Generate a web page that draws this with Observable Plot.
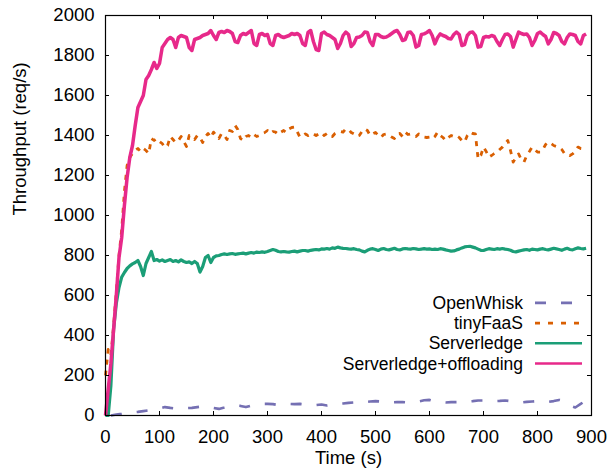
<!DOCTYPE html>
<html>
<head>
<meta charset="utf-8">
<script src="https://cdn.jsdelivr.net/npm/d3@7"></script>
<script src="https://cdn.jsdelivr.net/npm/@observablehq/plot@0.6"></script>
<style>
  body { margin: 0; background: #fff; }
  #chart svg { display: block; }
</style>
</head>
<body>
<div id="chart"></div>
<script>
// Throughput over time for four FaaS platforms (req/s, one sample every few seconds)
const seriesNames = ["OpenWhisk", "tinyFaaS", "Serverledge", "Serverledge+offloading"];
const seriesColors = ["#7570b3", "#d95f02", "#1b9e77", "#e7298a"];
const xTicks = [0, 100, 200, 300, 400, 500, 600, 700, 800, 900];
const yTicks = [0, 200, 400, 600, 800, 1000, 1200, 1400, 1600, 1800, 2000];

// OpenWhisk: samples every 10 s starting at t = 10 s
const openWhiskStart = 10, openWhiskStep = 10;
const openWhisk = [
  0, 5, 8, 12, 15, 18, 22, 26, 30, 35,
  42, 38, 35, 36, 37, 38, 42, 46, 45, 38,
  33, 40, 48, 50, 48, 42, 50, 55, 58, 58,
  57, 52, 55, 58, 57, 58, 55, 53, 52, 55,
  50, 55, 58, 60, 63, 65, 62, 67, 70, 72,
  70, 68, 66, 67, 67, 65, 68, 70, 76, 78,
  70, 66, 65, 67, 67, 68, 70, 72, 75, 75,
  74, 72, 73, 75, 72, 67, 65, 68, 70, 72,
  70, 68, 72, 78, 72, 50, 40, 58, 75
];

// tinyFaaS: samples every 5 s starting at t = 0
const tinyFaaSStart = 0, tinyFaaSStep = 5;
const tinyFaaS = [
  200, 330, 300, 450, 620, 800, 930, 1120, 1250, 1290,
  1310, 1325, 1335, 1320, 1335, 1325, 1310, 1385, 1375, 1385,
  1370, 1360, 1340, 1350, 1395, 1380, 1365, 1375, 1395, 1370,
  1345, 1400, 1395, 1380, 1400, 1390, 1365, 1395, 1410, 1390,
  1417, 1400, 1385, 1410, 1400, 1380, 1425, 1420, 1450, 1430,
  1385, 1375, 1395, 1400, 1390, 1405, 1395, 1400, 1410, 1415,
  1425, 1410, 1420, 1417, 1405, 1417, 1425, 1415, 1433, 1440,
  1442, 1420, 1392, 1400, 1408, 1400, 1410, 1408, 1400, 1408,
  1415, 1400, 1410, 1408, 1395, 1410, 1417, 1420, 1417, 1433,
  1430, 1415, 1408, 1395, 1400, 1420, 1433, 1425, 1400, 1408,
  1415, 1400, 1390, 1405, 1408, 1400, 1392, 1385, 1408, 1410,
  1395, 1417, 1405, 1408, 1400, 1395, 1408, 1400, 1392, 1390,
  1392, 1383, 1395, 1417, 1400, 1390, 1375, 1390, 1400, 1395,
  1400, 1390, 1375, 1367, 1400, 1417, 1410, 1408, 1283, 1300,
  1342, 1320, 1292, 1300, 1310, 1317, 1330, 1342, 1360, 1375,
  1325, 1267, 1290, 1308, 1280, 1267, 1300, 1320, 1342, 1330,
  1317, 1317, 1330, 1355, 1367, 1360, 1350, 1345, 1342, 1330,
  1310, 1308, 1300, 1308, 1320, 1342, 1335, 1333
];

// Serverledge: samples every 5 s starting at t = 0
const serverledgeStart = 0, serverledgeStep = 5;
const serverledge = [
  0, 0, 150, 430, 560, 640, 692, 715, 735, 748,
  758, 765, 775, 745, 700, 760, 790, 820, 775, 780,
  772, 778, 770, 775, 780, 770, 775, 768, 778, 770,
  765, 768, 760, 770, 760, 717, 745, 790, 800, 765,
  790, 798, 800, 805, 808, 805, 808, 810, 806, 808,
  810, 812, 808, 812, 815, 812, 817, 815, 818, 816,
  820, 825, 830, 826, 820, 818, 820, 818, 817, 820,
  822, 818, 822, 825, 825, 822, 826, 828, 830, 828,
  833, 832, 835, 832, 838, 836, 842, 838, 836, 835,
  833, 832, 834, 830, 828, 822, 818, 826, 832, 834,
  830, 825, 832, 835, 830, 828, 832, 836, 830, 828,
  833, 835, 833, 832, 835, 833, 830, 832, 834, 832,
  833, 830, 832, 830, 834, 832, 828, 825, 822, 823,
  828, 832, 838, 843, 845, 846, 842, 838, 832, 826,
  825, 830, 834, 832, 830, 834, 832, 835, 832, 830,
  826, 820, 818, 822, 825, 828, 830, 826, 832, 830,
  828, 832, 834, 830, 828, 832, 836, 833, 830, 826,
  832, 836, 830, 828, 834, 838, 835, 833, 836
];

// Serverledge+offloading: samples every 5 s starting at t = 0
const offloadingStart = 0, offloadingStep = 5;
const offloading = [
  0, 130, 260, 430, 600, 790, 890, 1050, 1190, 1290,
  1350, 1450, 1540, 1570, 1600, 1680, 1700, 1730, 1765, 1735,
  1760, 1840, 1860, 1880, 1890, 1880, 1840, 1890, 1900, 1895,
  1890, 1840, 1825, 1880, 1885, 1890, 1900, 1905, 1910, 1925,
  1900, 1880, 1915, 1920, 1915, 1925, 1920, 1910, 1870, 1865,
  1900, 1910, 1905, 1915, 1925, 1860, 1850, 1905, 1910, 1900,
  1905, 1860, 1850, 1900, 1905, 1895, 1890, 1895, 1900, 1910,
  1905, 1910, 1900, 1860, 1850, 1915, 1925, 1870, 1830, 1825,
  1910, 1917, 1905, 1900, 1890, 1880, 1835, 1860, 1900, 1917,
  1905, 1845, 1860, 1890, 1892, 1900, 1917, 1915, 1870, 1850,
  1905, 1905, 1895, 1890, 1892, 1900, 1910, 1920, 1925, 1905,
  1875, 1880, 1915, 1917, 1900, 1842, 1850, 1905, 1908, 1915,
  1925, 1900, 1858, 1890, 1908, 1900, 1895, 1885, 1883, 1905,
  1917, 1905, 1850, 1855, 1900, 1915, 1917, 1900, 1842, 1845,
  1890, 1895, 1892, 1900, 1895, 1870, 1850, 1880, 1905, 1908,
  1895, 1842, 1880, 1917, 1910, 1905, 1908, 1890, 1850, 1875,
  1910, 1917, 1905, 1895, 1858, 1880, 1915, 1910, 1900, 1870,
  1858, 1890, 1908, 1905, 1900, 1870, 1858, 1900, 1908
];

const toRows = (values, start, stepSec) => values.map((v, i) => ({t: start + i * stepSec, v}));

const width = 610, height = 476;
const margin = {top: 15, right: 19, bottom: 61, left: 105};
const frameW = width - margin.left - margin.right;
const frameH = height - margin.top - margin.bottom;
const tickLen = 4;
const fontSize = 18.5;
const legendFontSize = 17.5;
const font = "'Liberation Sans', Arial, Helvetica, sans-serif";

const lineStyle = [
  {strokeWidth: 2.6, strokeDasharray: "11,15"},
  {strokeWidth: 2.8, strokeDasharray: "5,6"},
  {strokeWidth: 3.2},
  {strokeWidth: 3.5}
];
const seriesData = [
  toRows(openWhisk, openWhiskStart, openWhiskStep),
  toRows(tinyFaaS, tinyFaaSStart, tinyFaaSStep),
  toRows(serverledge, serverledgeStart, serverledgeStep),
  toRows(offloading, offloadingStart, offloadingStep)
];

const chart = Plot.plot({
  width, height,
  marginTop: margin.top, marginRight: margin.right,
  marginBottom: margin.bottom, marginLeft: margin.left,
  style: {fontFamily: font, fontSize: `${fontSize}px`, color: "#000", background: "#fff", overflow: "visible"},
  x: {domain: [0, 900], label: null},
  y: {domain: [0, 2000], label: null},
  marks: [
    ...seriesData.map((rows, i) => Plot.line(rows, {
      x: "t", y: "v", stroke: seriesColors[i],
      strokeLinejoin: "round", strokeLinecap: "butt",
      ...lineStyle[i]
    })),
    Plot.frame({stroke: "#000", strokeWidth: 1.2}),
    // inward ticks on all four sides
    Plot.tickX(xTicks, {x: d => d, insetTop: frameH - tickLen, stroke: "#000"}),
    Plot.tickX(xTicks, {x: d => d, insetBottom: frameH - tickLen, stroke: "#000"}),
    Plot.tickY(yTicks, {y: d => d, insetRight: frameW - tickLen, stroke: "#000"}),
    Plot.tickY(yTicks, {y: d => d, insetLeft: frameW - tickLen, stroke: "#000"}),
    Plot.axisX(xTicks, {tickSize: 0, tickPadding: 14, fontSize, tickFormat: d => String(d)}),
    Plot.axisY(yTicks, {tickSize: 0, tickPadding: 11, fontSize, tickFormat: d => String(d)}),
    Plot.text(["Time (s)"], {frameAnchor: "bottom", dy: 48, fontSize}),
    Plot.text(["Throughput (req/s)"], {frameAnchor: "left", dx: -85, rotate: -90, fontSize})
  ]
});

// Legend in the lower right of the frame: label, then a sample of the line style
const svg = d3.select(chart);
const legend = svg.append("g").attr("font-family", font).attr("font-size", legendFontSize);
const textRight = width - margin.right - 68;
const sampleX1 = width - margin.right - 56;
const sampleX2 = width - margin.right - 9;
const rowGap = 20.2;
const rowY0 = height - margin.bottom - 51.5 - 3 * rowGap;
seriesNames.forEach((name, i) => {
  const y = rowY0 + i * rowGap;
  legend.append("text")
    .attr("x", textRight).attr("y", y)
    .attr("text-anchor", "end").attr("dy", "0.35em")
    .attr("fill", "#000")
    .text(name);
  legend.append("line")
    .attr("x1", sampleX1).attr("x2", sampleX2)
    .attr("y1", y).attr("y2", y)
    .attr("stroke", seriesColors[i])
    .attr("stroke-width", 2.6)
    .attr("stroke-dasharray", i === 0 ? "11,15" : i === 1 ? "5,8" : null);
});

document.getElementById("chart").appendChild(chart);
</script>
</body>
</html>
